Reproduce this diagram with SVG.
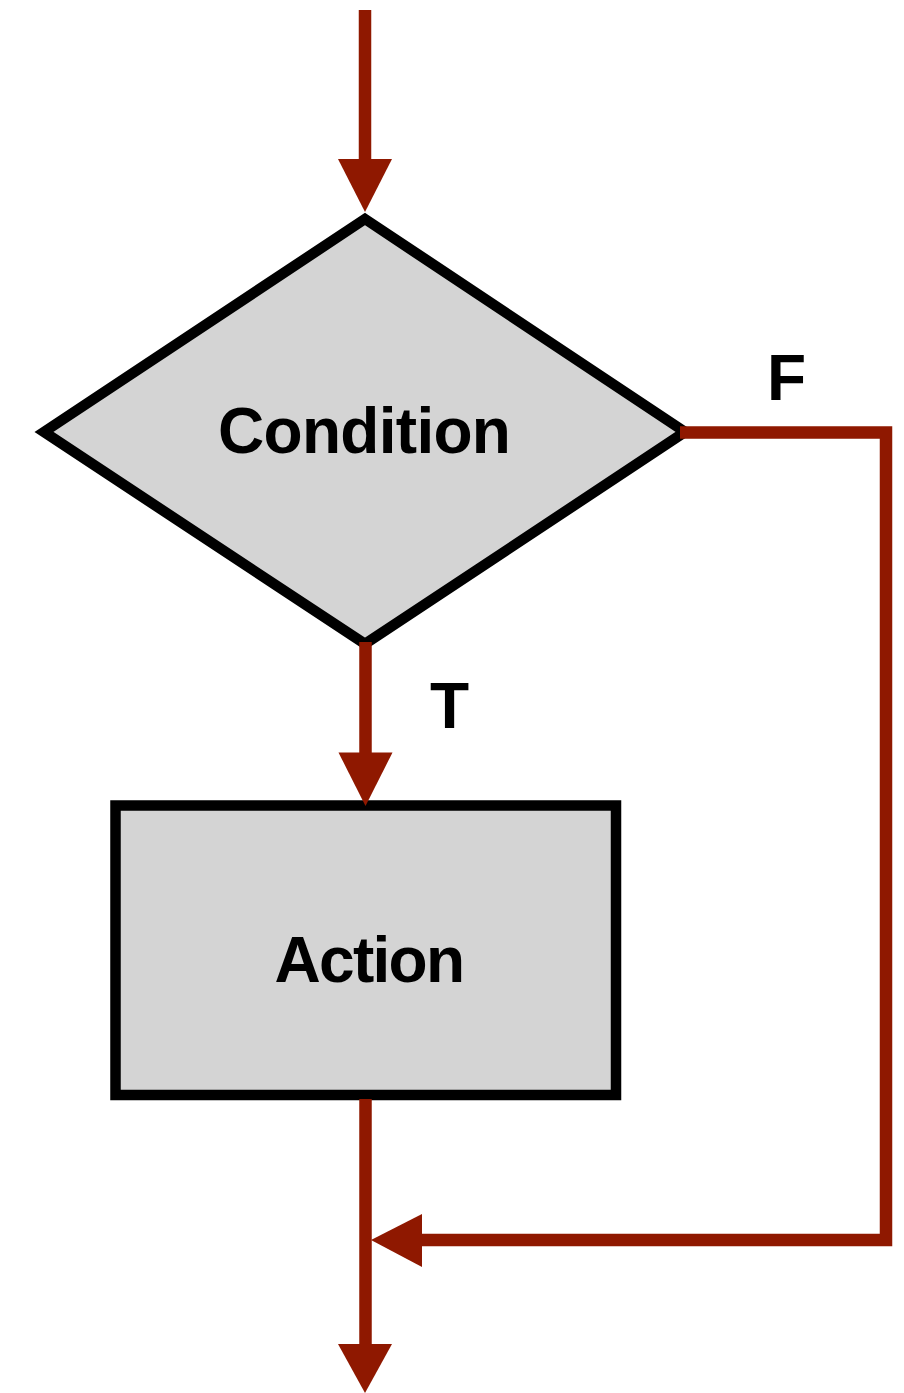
<svg xmlns="http://www.w3.org/2000/svg" width="904" height="1393" viewBox="0 0 904 1393">
<style>
.shape{fill:#d4d4d4;stroke:#000;stroke-width:10.5;stroke-linejoin:miter;stroke-miterlimit:10}
.wire{fill:none;stroke:#8f1800;stroke-width:12.5;stroke-linecap:butt;stroke-linejoin:miter}
.head{fill:#8f1800;stroke:none}
.lbl{font-family:"Liberation Sans",Arial,Helvetica,sans-serif;font-weight:bold;font-size:64px;fill:#000}
</style>
<rect width="904" height="1393" fill="#fff"/>
<g id="condition">
<polygon class="shape" points="365,219 685,432 365,644 44,432"/>
<text class="lbl" x="218" y="453" letter-spacing="-0.7">Condition</text>
</g>
<g id="action">
<rect class="shape" x="115.5" y="805.5" width="500.5" height="289.5"/>
<text class="lbl" x="274.5" y="982" letter-spacing="-1.7">Action</text>
</g>
<g id="connectors">
<line class="wire" x1="365" y1="10" x2="365" y2="160"/>
<polygon class="head" points="338,159 392,159 365,212"/>
<line class="wire" x1="365.5" y1="642" x2="365.5" y2="754"/>
<polygon class="head" points="338.5,752.5 392.5,752.5 365.5,806"/>
<polyline class="wire" points="680,432.5 886,432.5 886,1240 420,1240"/>
<polygon class="head" points="371,1240 422,1214 422,1267"/>
<line class="wire" x1="365.5" y1="1099" x2="365.5" y2="1346"/>
<polygon class="head" points="338,1344 392,1344 365,1393"/>
<text class="lbl" x="767" y="400">F</text>
<text class="lbl" x="430" y="728">T</text>
</g>
</svg>
